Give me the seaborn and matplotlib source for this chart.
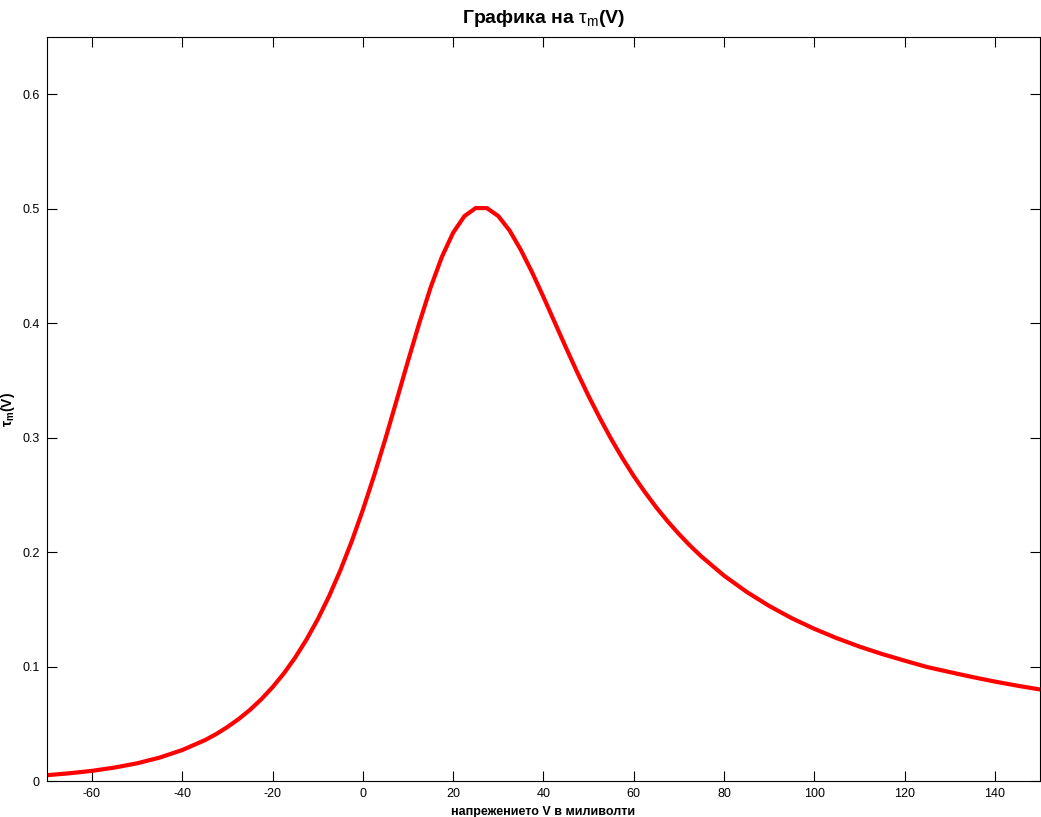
# tau_m(V) curve, MATLAB-style look
import pandas as pd
import matplotlib
matplotlib.use("Agg")
import matplotlib.pyplot as plt
import seaborn as sns

# values
voltage = [-70, -65, -60, -55, -50, -45, -40, -35, -32.5, -30, -27.5, -25,
           -22.5, -20, -17.5, -15, -12.5, -10, -7.5, -5, -2.5,
           0, 2.5, 5, 7.5, 10, 12.5, 15, 17.5, 20, 22.5, 25, 27.5, 30, 32.5,
           35, 37.5, 40, 42.5, 45, 47.5, 50, 52.5, 55, 57.5, 60, 62.5, 65,
           67.5, 70, 72.5, 75, 80, 85, 90, 95,
           100, 105, 110, 115, 120, 125, 130, 135, 140, 145, 150]
tau_m = [0.0051, 0.0068, 0.0089, 0.0118, 0.0155, 0.0205, 0.0271, 0.0357,
         0.0410, 0.0472, 0.0542, 0.0622,
         0.0714, 0.0820, 0.0940, 0.1078, 0.1235, 0.1412, 0.1613, 0.1839, 0.2090,
         0.2368, 0.2669, 0.2990, 0.3328, 0.3669, 0.4000, 0.4310, 0.4578,
         0.4790, 0.4935, 0.5006, 0.5005, 0.4936, 0.4810,
         0.4640, 0.4444, 0.4230, 0.4008, 0.3786, 0.3570, 0.3364, 0.3171,
         0.2989, 0.2821, 0.2665, 0.2523, 0.2391,
         0.2270, 0.2159, 0.2056, 0.1962, 0.1795, 0.1653, 0.1530, 0.1423,
         0.1330, 0.1248, 0.1175, 0.1110, 0.1052, 0.0996, 0.0952, 0.0909,
         0.0869, 0.0833, 0.0800]

xticks = [-60, -40, -20, 0, 20, 40, 60, 80, 100, 120, 140]
yticks = [0, 0.1, 0.2, 0.3, 0.4, 0.5, 0.6]

df = pd.DataFrame({"V": voltage, "tau": tau_m})

sns.set_style("white")
plt.rcParams['font.family'] = ['Liberation Sans', 'DejaVu Sans']
plt.rcParams['mathtext.fontset'] = 'custom'
plt.rcParams['mathtext.rm'] = 'Liberation Sans'
plt.rcParams['mathtext.it'] = 'Liberation Sans'
plt.rcParams['mathtext.bf'] = 'Liberation Sans:bold'
plt.rcParams['text.color'] = 'black'
plt.rcParams['axes.labelcolor'] = 'black'
plt.rcParams['xtick.color'] = 'black'
plt.rcParams['ytick.color'] = 'black'

fig = plt.figure(figsize=(10.41, 8.17), dpi=100)
ax = fig.add_axes([0.045, 0.044, 0.954, 0.9107])

sns.lineplot(data=df, x="V", y="tau", color="#ff0000", linewidth=3.0, ax=ax)

ax.set_xlim(-70, 150)
ax.set_ylim(0, 0.65)
ax.set_xticks(xticks)
ax.set_xticklabels([str(t) for t in xticks])
ax.set_yticks(yticks)
ax.set_yticklabels(["0"] + [f"{t:.1f}" for t in yticks[1:]])

ax.tick_params(direction="in", length=7, width=0.8, labelsize=9,
               top=True, right=True, bottom=True, left=True, pad=5)
for s in ax.spines.values():
    s.set_visible(True)
    s.set_color("black")
    s.set_linewidth(0.8)

ax.set_title(r"Графика на $\tau_m$(V)", fontsize=14, fontweight="bold", pad=10)
ax.set_xlabel("напрежението V в миливолти", fontsize=9, fontweight="bold", labelpad=4)
ax.set_ylabel(r"$\mathbf{\tau_m}$(V)", fontsize=10, fontweight="bold", labelpad=4)

fig.savefig("out.png", dpi=100)
